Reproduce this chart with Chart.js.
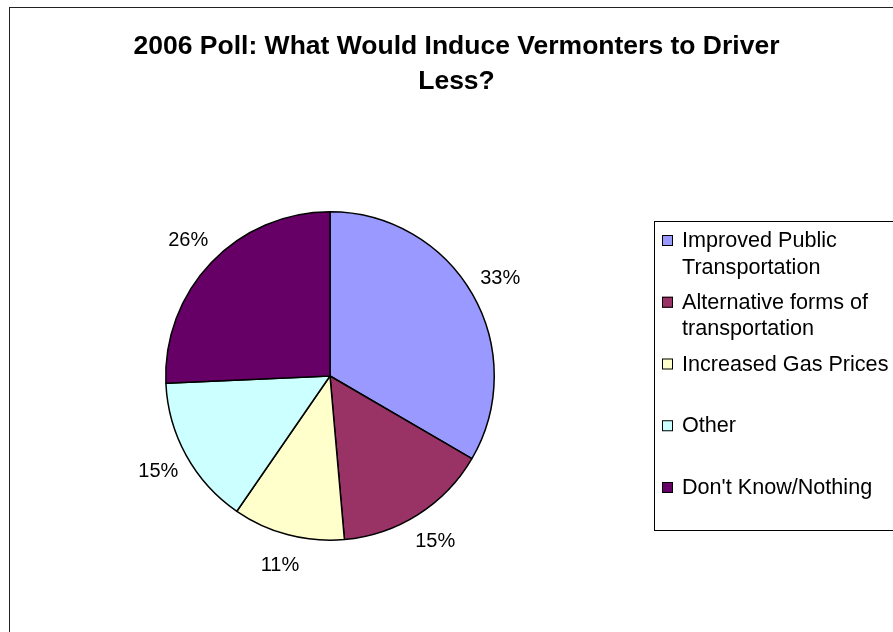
<!DOCTYPE html>
<html>
<head>
<meta charset="utf-8">
<script src="https://cdn.jsdelivr.net/npm/chart.js@4"></script>
<style>
  html, body { margin: 0; padding: 0; background: #ffffff; }
  #wrap { width: 893px; height: 632px; position: relative; }
</style>
</head>
<body>
<div id="wrap"><canvas id="c" width="893" height="632"></canvas></div>
<script>
// ---- data ----
const categories = [
  'Improved Public Transportation',
  'Alternative forms of transportation',
  'Increased Gas Prices',
  'Other',
  "Don't Know/Nothing"
];
const legendLines = [
  ['Improved Public', 'Transportation'],
  ['Alternative forms of', 'transportation'],
  ['Increased Gas Prices'],
  ['Other'],
  ["Don't Know/Nothing"]
];
const values = [33.4, 15.2, 11.0, 14.7, 25.7];
const percentLabels = ['33%', '15%', '11%', '15%', '26%'];
const sliceColors = ['#9999FF', '#993366', '#FFFFCC', '#CCFFFF', '#660066'];
const titleLines = ['2006 Poll: What Would Induce Vermonters to Driver', 'Less?'];

const FONT = '"Liberation Sans", Arial, sans-serif';

const decorPlugin = {
  id: 'decor',
  afterDraw(chart) {
    const ctx = chart.ctx;
    ctx.save();
    // outer frame
    ctx.strokeStyle = '#222';
    ctx.lineWidth = 1;
    ctx.strokeRect(9.5, 7.5, 900, 700);

    // title
    ctx.fillStyle = '#000';
    ctx.font = 'bold 26.5px ' + FONT;
    ctx.textAlign = 'center';
    ctx.textBaseline = 'alphabetic';
    titleLines.forEach((t, i) => ctx.fillText(t, 456.5, 53.5 + i * 35));

    // percentage labels
    const meta = chart.getDatasetMeta(0);
    ctx.font = '20px ' + FONT;
    ctx.textBaseline = 'middle';
    meta.data.forEach((arc, i) => {
      const mid = (arc.startAngle + arc.endAngle) / 2;
      const r = arc.outerRadius + 32;
      ctx.fillText(percentLabels[i], arc.x + Math.cos(mid) * r, arc.y + Math.sin(mid) * r);
    });

    // legend box
    ctx.strokeStyle = '#000';
    ctx.lineWidth = 1;
    ctx.strokeRect(654.5, 221.5, 300, 309);
    ctx.font = '21.6px ' + FONT;
    ctx.textAlign = 'left';
    ctx.textBaseline = 'alphabetic';
    legendLines.forEach((lines, i) => {
      const base = 247 + i * 61.75;
      ctx.fillStyle = chart.data.datasets[0].backgroundColor[i];
      ctx.fillRect(662, base - 12, 11, 11);
      ctx.strokeStyle = '#000';
      ctx.strokeRect(662.5, base - 11.5, 10, 10);
      ctx.fillStyle = '#000';
      lines.forEach((ln, j) => ctx.fillText(ln, 682, base + j * 26.5));
    });
    ctx.restore();
  }
};

new Chart(document.getElementById('c'), {
  type: 'pie',
  data: {
    labels: categories,
    datasets: [{
      data: values,
      backgroundColor: sliceColors,
      borderColor: '#000',
      borderWidth: 1.5,
      hoverOffset: 0
    }]
  },
  options: {
    responsive: false,
    animation: false,
    events: [],
    layout: { padding: { left: 165, right: 398, top: 211, bottom: 91 } },
    plugins: {
      legend: { display: false },
      title: { display: false },
      tooltip: { enabled: false }
    }
  },
  plugins: [decorPlugin]
});
</script>
</body>
</html>
